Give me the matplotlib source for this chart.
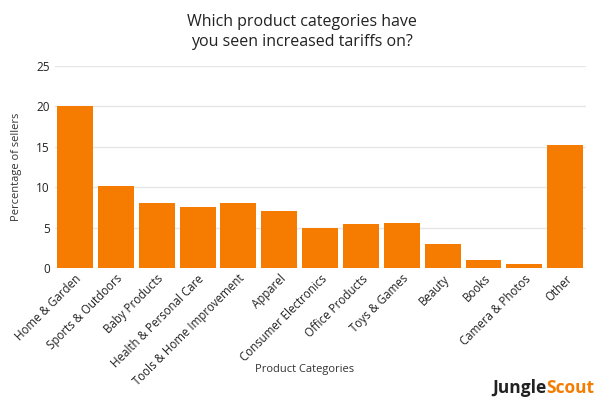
import matplotlib.pyplot as plt
import numpy as np

plt.rcParams['font.family'] = ['Open Sans', 'DejaVu Sans']

categories = ['Home & Garden', 'Sports & Outdoors', 'Baby Products', 'Health & Personal Care',
              'Tools & Home Improvement', 'Apparel', 'Consumer Electronics', 'Office Products',
              'Toys & Games', 'Beauty', 'Books', 'Camera & Photos', 'Other']
values = [20.0, 10.2, 8.1, 7.6, 8.1, 7.1, 5.0, 5.5, 5.6, 3.0, 1.0, 0.5, 15.2]
yticks = [0, 5, 10, 15, 20, 25]

orange = '#F57C00'

fig = plt.figure(figsize=(6, 4), dpi=100)
ax = fig.add_axes([0.091, 0.33, 0.885, 0.505])

x = np.arange(len(categories))
ax.bar(x, values, width=0.88, color=orange, zorder=3)
ax.set_xlim(-0.5, len(categories) - 0.5)
ax.set_ylim(0, 25)
ax.set_yticks(yticks)
ax.grid(axis='y', color='#e6e6e6', linewidth=1, zorder=0)
for s in ax.spines.values():
    s.set_visible(False)
ax.tick_params(axis='both', length=0, labelsize=8.5, colors='#222222')
ax.set_xticks(x)
ax.set_xticklabels(categories, rotation=45, ha='right', rotation_mode='anchor', fontsize=8.3)
ax.tick_params(axis='x', pad=3)

ax.set_ylabel('Percentage of sellers', fontsize=8, color='#333333', labelpad=10)
ax.set_xlabel('Product Categories', fontsize=8, color='#333333')
ax.xaxis.set_label_coords(0.47, -0.475)

fig.text(0.503, 0.92, 'Which product categories have\nyou seen increased tariffs on?',
         ha='center', va='center', fontsize=11.5, color='#222222', linespacing=1.35)

t1 = fig.text(0.82, 0.03, 'Jungle', ha='left', va='center', fontsize=12.5,
              fontweight='bold', color='#222222')
fig.canvas.draw()
bb = t1.get_window_extent()
x1 = fig.transFigure.inverted().transform((bb.x1, bb.y0))[0]
fig.text(x1, 0.03, 'Scout', ha='left', va='center', fontsize=12.5,
         fontweight='bold', color=orange)

fig.savefig('out.png', dpi=100)
